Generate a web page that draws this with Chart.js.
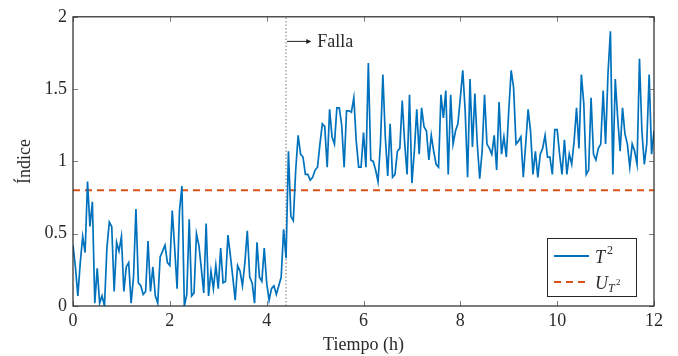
<!DOCTYPE html>
<html>
<head>
<meta charset="utf-8">
<script src="https://cdn.jsdelivr.net/npm/chart.js@4.4.0/dist/chart.umd.min.js"></script>
<style>
  html, body { margin: 0; padding: 0; background: #fff; }
  #wrap { width: 678px; height: 356px; }
</style>
</head>
<body>
<div id="wrap"><canvas id="myChart" width="678" height="356"></canvas></div>
<script>
// sampling step of the T2 index (hours)
const sampleStep = 0.05;

// T2 index values, one every 0.05 h from 0 to 12 h
const t2Values = [
  0.42, 0.27, 0.07, 0.30, 0.48, 0.37, 0.86, 0.55, 0.72, 0.02,
  0.26, 0.02, 0.07, 0.00, 0.40, 0.58, 0.55, 0.10, 0.44, 0.38,
  0.48, 0.10, 0.27, 0.30, 0.02, 0.20, 0.67, 0.16, 0.14, 0.08,
  0.10, 0.45, 0.10, 0.27, 0.07, 0.02, 0.34, 0.38, 0.42, 0.30,
  0.28, 0.66, 0.40, 0.12, 0.66, 0.83, 0.00, 0.08, 0.60, 0.07,
  0.09, 0.50, 0.42, 0.26, 0.09, 0.57, 0.07, 0.24, 0.12, 0.28,
  0.12, 0.40, 0.16, 0.17, 0.49, 0.35, 0.20, 0.04, 0.28, 0.24,
  0.14, 0.30, 0.52, 0.20, 0.16, 0.02, 0.44, 0.20, 0.17, 0.40,
  0.16, 0.04, 0.12, 0.14, 0.08, 0.14, 0.20, 0.53, 0.33, 1.07,
  0.62, 0.59, 0.94, 1.18, 1.05, 1.03, 0.91, 0.91, 0.87, 0.89,
  0.94, 0.96, 1.12, 1.26, 1.24, 0.96, 1.36, 1.17, 1.12, 1.37,
  1.37, 1.25, 0.96, 1.35, 1.35, 1.34, 1.44, 1.14, 0.96, 0.96,
  1.20, 0.96, 1.68, 1.01, 1.00, 0.94, 0.86, 1.12, 1.60, 1.17,
  0.90, 1.26, 0.89, 0.91, 1.07, 1.09, 1.42, 1.13, 0.91, 1.46,
  0.85, 1.07, 1.36, 1.05, 1.37, 1.24, 1.21, 1.01, 1.18, 1.07,
  0.98, 0.96, 1.46, 1.30, 1.49, 0.91, 1.46, 1.12, 1.21, 1.26,
  1.44, 1.63, 1.35, 0.89, 1.57, 1.10, 1.47, 1.12, 0.88, 1.07,
  1.46, 1.12, 1.09, 1.05, 1.18, 0.94, 1.41, 1.05, 1.17, 1.03,
  1.35, 1.63, 1.51, 1.12, 1.14, 1.17, 0.89, 1.12, 1.36, 1.21,
  0.91, 1.07, 0.89, 1.05, 1.09, 1.18, 1.03, 1.03, 0.91, 1.22,
  1.22, 1.05, 0.91, 1.15, 0.91, 1.05, 0.98, 1.14, 1.37, 1.09,
  1.60, 1.40, 0.91, 0.94, 1.44, 1.05, 1.01, 1.09, 1.12, 1.49,
  1.12, 1.61, 1.90, 0.91, 1.57, 1.30, 1.07, 1.37, 1.19, 1.12,
  0.96, 1.12, 1.07, 0.98, 1.71, 1.21, 0.98, 1.12, 1.60, 1.05,
  1.21
];

// control limit U_T2
const limitTimes = [0, 12];
const limitValues = [0.8, 0.8];

// fault instant (h)
const faultTime = 4.4;
const faultLabel = 'Falla';

const xTicks = [0, 2, 4, 6, 8, 10, 12];
const yTicks = [0, 0.5, 1, 1.5, 2];

const blue = '#0072BD';
const orange = '#D95319';
const serif = '"Liberation Serif", "DejaVu Serif", serif';

const t2Points = t2Values.map((v, i) => ({ x: i * sampleStep, y: v }));
const limitPoints = limitTimes.map((t, i) => ({ x: t, y: limitValues[i] }));

// frame, inward ticks, fault arrow and legend
const decorations = {
  id: 'decorations',
  afterDraw(chart) {
    const { ctx, chartArea: a, scales: { x, y } } = chart;
    ctx.save();

    // ticks (inside, mirrored)
    ctx.strokeStyle = '#808080';
    ctx.lineWidth = 1;
    ctx.beginPath();
    xTicks.forEach(v => {
      const px = Math.round(x.getPixelForValue(v)) + 0.5;
      ctx.moveTo(px, a.bottom); ctx.lineTo(px, a.bottom - 5);
      ctx.moveTo(px, a.top); ctx.lineTo(px, a.top + 5);
    });
    yTicks.forEach(v => {
      const py = Math.round(y.getPixelForValue(v)) + 0.5;
      ctx.moveTo(a.left, py); ctx.lineTo(a.left + 5, py);
      ctx.moveTo(a.right, py); ctx.lineTo(a.right - 5, py);
    });
    ctx.stroke();

    // frame
    ctx.strokeStyle = '#262626';
    ctx.lineWidth = 1.2;
    ctx.strokeRect(a.left, a.top, a.right - a.left, a.bottom - a.top);

    // fault arrow + label
    const fx = x.getPixelForValue(faultTime);
    const ay = y.getPixelForValue(1.83);
    const ax2 = x.getPixelForValue(faultTime + 0.5);
    ctx.strokeStyle = '#222';
    ctx.fillStyle = '#222';
    ctx.lineWidth = 1;
    ctx.beginPath();
    ctx.moveTo(fx + 1, ay); ctx.lineTo(ax2, ay);
    ctx.stroke();
    ctx.beginPath();
    ctx.moveTo(ax2 + 1, ay);
    ctx.lineTo(ax2 - 4, ay - 2.5);
    ctx.lineTo(ax2 - 4, ay + 2.5);
    ctx.closePath();
    ctx.fill();
    ctx.font = '18px ' + serif;
    ctx.fillStyle = '#2a2a2a';
    ctx.textBaseline = 'middle';
    ctx.textAlign = 'left';
    ctx.fillText(faultLabel, ax2 + 7, ay + 1);

    // legend
    const bw = 89, bh = 58;
    const bx = a.right - 18 - bw, by = a.bottom - 10 - bh;
    ctx.fillStyle = '#fff';
    ctx.fillRect(bx, by, bw, bh);
    ctx.strokeStyle = '#262626';
    ctx.lineWidth = 1;
    ctx.strokeRect(bx + 0.5, by + 0.5, bw, bh);

    const ly1 = by + 18, ly2 = by + 44;
    ctx.lineWidth = 2;
    ctx.strokeStyle = blue;
    ctx.setLineDash([]);
    ctx.beginPath(); ctx.moveTo(bx + 7, ly1); ctx.lineTo(bx + 42, ly1); ctx.stroke();
    ctx.strokeStyle = orange;
    ctx.setLineDash([7, 5]);
    ctx.beginPath(); ctx.moveTo(bx + 7, ly2); ctx.lineTo(bx + 42, ly2); ctx.stroke();
    ctx.setLineDash([]);

    ctx.fillStyle = '#2a2a2a';
    ctx.textBaseline = 'alphabetic';
    const tx = bx + 48;
    ctx.font = 'italic 18px ' + serif;
    ctx.fillText('T', tx, ly1 + 7);
    ctx.font = '12px ' + serif;
    ctx.fillText('2', tx + 12, ly1 - 2);
    ctx.font = 'italic 18px ' + serif;
    ctx.fillText('U', tx, ly2 + 7);
    ctx.font = 'italic 12px ' + serif;
    ctx.fillText('T', tx + 13, ly2 + 10);
    ctx.font = '9px ' + serif;
    ctx.fillText('2', tx + 21, ly2 + 3);

    ctx.restore();
  }
};

new Chart(document.getElementById('myChart').getContext('2d'), {
  type: 'line',
  data: {
    datasets: [
      {
        label: 'T2',
        data: t2Points,
        borderColor: blue,
        borderWidth: 1.7,
        pointRadius: 0,
        tension: 0,
        order: 1
      },
      {
        label: 'UT2',
        data: limitPoints,
        borderColor: orange,
        borderWidth: 2,
        borderDash: [7, 5],
        pointRadius: 0,
        order: 2
      },
      {
        label: 'fault',
        data: [{ x: faultTime, y: 0 }, { x: faultTime, y: 2 }],
        borderColor: '#777',
        borderWidth: 1,
        borderDash: [1.5, 2],
        pointRadius: 0,
        order: 3
      }
    ]
  },
  options: {
    responsive: false,
    animation: false,
    layout: { padding: { left: 0, right: 24, top: 16, bottom: 0 } },
    plugins: {
      legend: { display: false },
      tooltip: { enabled: false }
    },
    scales: {
      x: {
        type: 'linear',
        min: 0,
        max: 12,
        afterBuildTicks: s => { s.ticks = xTicks.map(v => ({ value: v })); },
        afterFit: s => { s.height = 50; },
        grid: { display: false, drawTicks: false },
        border: { display: false },
        ticks: {
          maxRotation: 0,
          padding: 4,
          color: '#2a2a2a',
          font: { family: serif, size: 18 },
          callback: v => String(v)
        },
        title: {
          display: true,
          text: 'Tiempo (h)',
          color: '#2a2a2a',
          font: { family: serif, size: 18 },
          padding: { top: 0, bottom: 0 }
        }
      },
      y: {
        min: 0,
        max: 2,
        afterBuildTicks: s => { s.ticks = yTicks.map(v => ({ value: v })); },
        afterFit: s => { s.width = 73; },
        grid: { display: false, drawTicks: false },
        border: { display: false },
        ticks: {
          padding: 6,
          color: '#2a2a2a',
          font: { family: serif, size: 18 },
          callback: v => String(v)
        },
        title: {
          display: true,
          text: 'Índice',
          color: '#2a2a2a',
          font: { family: serif, size: 18 },
          padding: { top: 14, bottom: 0 }
        }
      }
    }
  },
  plugins: [decorations]
});
</script>
</body>
</html>
